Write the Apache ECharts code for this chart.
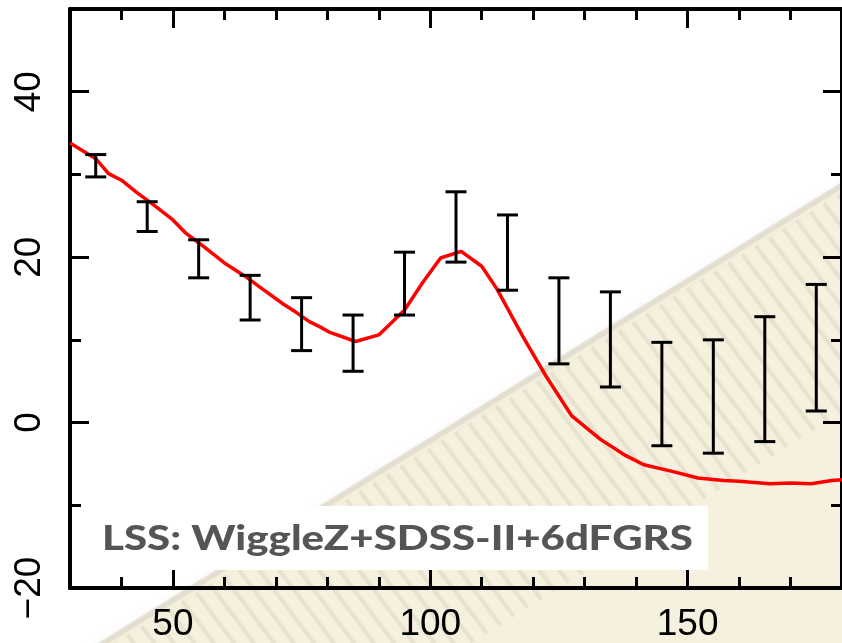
<!DOCTYPE html>
<html>
<head>
<meta charset="utf-8">
<script src="https://cdn.jsdelivr.net/npm/echarts@6/dist/echarts.min.js"></script>
<style>
  html, body { margin: 0; padding: 0; background: #fff; }
  #chart { width: 842px; height: 643px; }
</style>
</head>
<body>
<div id="chart"></div>
<script>
// Model correlation function (red curve): separation s and value s^2 xi(s)
const curveS  = [30, 35, 37.5, 40, 43, 46.5, 50, 52.5, 55.5, 60, 64, 67.5, 71.5, 74, 76.5, 78.5, 80.5, 85.5, 90, 95, 98.5, 102, 106, 110, 113, 118, 122.5, 127.5, 133, 138, 141.5, 147, 152, 157, 160, 166, 170, 174, 178, 180];
const curveXi = [33.8, 31.9, 30.1, 29.3, 27.8, 26.2, 24.5, 22.9, 21.5, 19.3, 17.7, 16.1, 14.3, 13.3, 12.2, 11.6, 10.9, 9.8, 10.6, 13.6, 16.9, 19.9, 20.7, 18.9, 16.1, 10.4, 5.6, 0.8, -2.0, -4.0, -5.1, -5.9, -6.7, -7.0, -7.1, -7.4, -7.3, -7.4, -7.0, -6.9];

// Measured bins with error bars
const binS    = [35, 45, 55, 65, 75, 85, 95, 105, 115, 125, 135, 145, 155, 165, 175];
const binLow  = [29.7, 23.1, 17.5, 12.4, 8.7, 6.2, 13.0, 19.4, 16.0, 7.1, 4.3, -2.8, -3.7, -2.3, 1.4];
const binHigh = [32.4, 26.7, 22.1, 17.8, 15.1, 13.0, 20.6, 27.9, 25.1, 17.5, 15.8, 9.7, 10.0, 12.8, 16.7];

// Tick positions
const xMajor = [50, 100, 150];
const yMajor = [-20, 0, 20, 40];

const panelLabel = 'LSS: WiggleZ+SDSS-II+6dFGRS';

const W = 842, H = 643;

// ---- decorative backdrop: diagonal cream band with ruler-like hatching ----
const edgeY = x => 643 - 0.62 * (x - 100);
const backdrop = [];
backdrop.push({
  type: 'polygon', z: -20, silent: true,
  shape: { points: [[90, edgeY(90)], [880, edgeY(880)], [880, 700], [90, 700]] },
  style: { fill: '#f6f1df' }
});
backdrop.push({
  type: 'line', z: -19, silent: true,
  shape: { x1: 90, y1: edgeY(90) + 2, x2: 880, y2: edgeY(880) + 2 },
  style: { stroke: 'rgba(185,180,165,0.25)', lineWidth: 6, shadowBlur: 8, shadowColor: 'rgba(185,180,165,0.4)' }
});
const hatchDepth = 230;
for (let x0 = -300; x0 < 900; x0 += 13.65) {
  const y0 = edgeY(x0);
  const t0 = 8, t1 = hatchDepth / 1.172;
  backdrop.push({
    type: 'line', z: -18, silent: true,
    shape: { x1: x0 + 0.6 * t0, y1: y0 + 0.8 * t0, x2: x0 + 0.6 * t1, y2: y0 + 0.8 * t1 },
    style: { stroke: 'rgba(150,140,120,0.13)', lineWidth: 4, shadowBlur: 4, shadowColor: 'rgba(150,140,120,0.25)' }
  });
}

// ---- label box (text stretched to the box's inner width) ----
const labelFont = '900 35px Lato';
const measureCtx = document.createElement('canvas').getContext('2d');
measureCtx.font = labelFont;
const labelWidth = measureCtx.measureText(panelLabel).width;
const labelStretch = 591 / labelWidth;
const labelBox = [
  { type: 'rect', z: 50, silent: true, shape: { x: 88, y: 506, width: 620, height: 64 }, style: { fill: '#ffffff' } },
  { type: 'text', z: 51, silent: true, x: 102, y: 539, scaleX: labelStretch,
    style: { x: 0, y: 0, text: panelLabel, fill: '#555555', font: labelFont, verticalAlign: 'middle', align: 'left' } }
];

const gridBox = { left: 70, right: -11, top: 9, bottom: 55 };
const lineStyleAxis = { color: '#000', width: 4 };
const minusFmt = v => String(v).replace('-', '\u2212');

function majorX(position) {
  return {
    type: 'value', gridIndex: 0, position, min: 30, max: 180,
    axisLine: { show: true, onZero: false, lineStyle: lineStyleAxis },
    axisTick: { show: true, inside: true, length: 19, customValues: xMajor, lineStyle: { color: '#000', width: 3 } },
    axisLabel: position === 'bottom'
      ? { show: true, customValues: xMajor, fontSize: 37, color: '#000', fontFamily: 'Liberation Sans', margin: 18 }
      : { show: false },
    splitLine: { show: false }
  };
}
function minorX(position) {
  return {
    type: 'value', gridIndex: 1, position, min: 30, max: 180, interval: 10,
    axisLine: { show: false, onZero: false },
    axisTick: { show: true, inside: true, length: 11, lineStyle: { color: '#000', width: 3 } },
    axisLabel: { show: false }, splitLine: { show: false }
  };
}
function majorY(position) {
  return {
    type: 'value', gridIndex: 0, position, min: -20, max: 50,
    axisLine: { show: true, onZero: false, lineStyle: lineStyleAxis },
    axisTick: { show: true, inside: true, length: 19, customValues: yMajor, lineStyle: { color: '#000', width: 3 } },
    axisLabel: position === 'left'
      ? { show: true, customValues: yMajor, rotate: 90, fontSize: 37, color: '#000', fontFamily: 'Liberation Sans', margin: 22, formatter: minusFmt }
      : { show: false },
    splitLine: { show: false }
  };
}
function minorY(position) {
  return {
    type: 'value', gridIndex: 1, position, min: -20, max: 50, interval: 10,
    axisLine: { show: false, onZero: false },
    axisTick: { show: true, inside: true, length: 11, lineStyle: { color: '#000', width: 3 } },
    axisLabel: { show: false }, splitLine: { show: false }
  };
}

const chart = echarts.init(document.getElementById('chart'), null, { renderer: 'canvas', width: W, height: H });

chart.setOption({
  backgroundColor: '#ffffff',
  animation: false,
  grid: [Object.assign({}, gridBox), Object.assign({}, gridBox)],
  xAxis: [majorX('bottom'), majorX('top'), minorX('bottom'), minorX('top')],
  yAxis: [majorY('left'), majorY('right'), minorY('left'), minorY('right')],
  graphic: { elements: backdrop.concat(labelBox) },
  series: [
    {
      type: 'custom', xAxisIndex: 0, yAxisIndex: 0, z: 5,
      data: binS.map((s, i) => [s, binLow[i], binHigh[i]]),
      encode: { x: 0, y: [1, 2] },
      renderItem: function (params, api) {
        const s = api.value(0);
        const lo = api.coord([s, api.value(1)]);
        const hi = api.coord([s, api.value(2)]);
        const hw = 10.5;
        const st = { stroke: '#000', lineWidth: 3, fill: null };
        return {
          type: 'group',
          children: [
            { type: 'line', shape: { x1: lo[0], y1: lo[1], x2: hi[0], y2: hi[1] }, style: st },
            { type: 'line', shape: { x1: lo[0] - hw, y1: lo[1], x2: lo[0] + hw, y2: lo[1] }, style: st },
            { type: 'line', shape: { x1: hi[0] - hw, y1: hi[1], x2: hi[0] + hw, y2: hi[1] }, style: st }
          ]
        };
      }
    },
    {
      type: 'line', xAxisIndex: 0, yAxisIndex: 0, z: 4,
      data: curveS.map((s, i) => [s, curveXi[i]]),
      showSymbol: false, symbol: 'none', smooth: false,
      lineStyle: { color: '#ff0000', width: 3.5 }
    }
  ]
});
</script>
</body>
</html>
